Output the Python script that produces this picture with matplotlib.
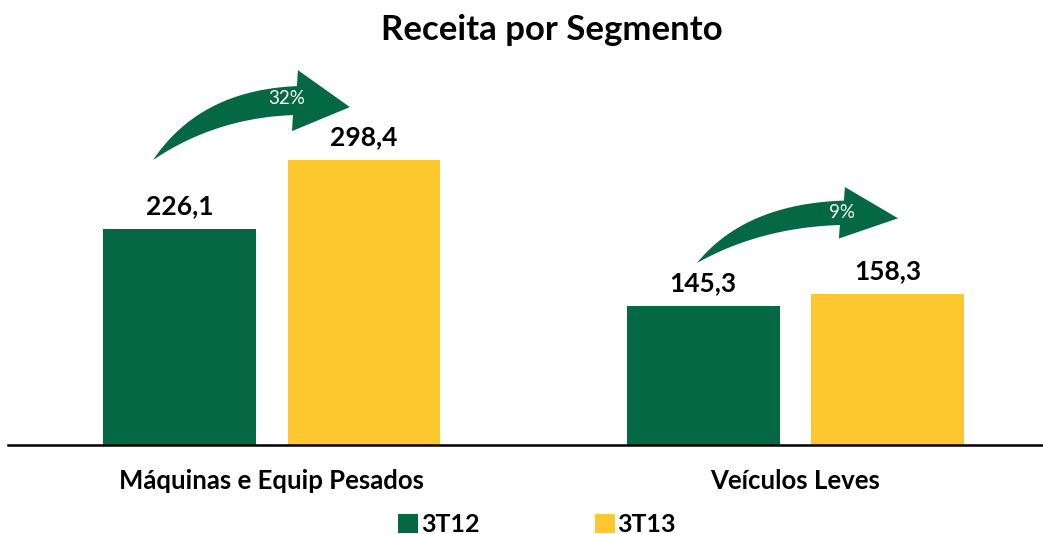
import matplotlib.pyplot as plt
import numpy as np
from matplotlib.patches import Polygon

plt.rcParams['font.family'] = ['Lato', 'DejaVu Sans']

categories = ['Máquinas e Equip Pesados', 'Veículos Leves']
series_names = ['3T12', '3T13']
values_3t12 = [226.1, 145.3]
values_3t13 = [298.4, 158.3]

GREEN = '#046845'
YELLOW = '#FDC82F'

W, H = 1043, 534
fig = plt.figure(figsize=(W / 100, H / 100), dpi=100)
ax = fig.add_axes([8 / W, (H - 445) / H, 1 - 8 / W, (445 - 60) / H])

x = np.arange(len(categories))
bw = 0.292
off = 0.176
b1 = ax.bar(x - off, values_3t12, bw, color=GREEN, label=series_names[0])
b2 = ax.bar(x + off, values_3t13, bw, color=YELLOW, label=series_names[1])

# value labels
for bars in (b1, b2):
    for r in bars:
        h = r.get_height()
        ax.annotate(f'{h:.1f}'.replace('.', ','), (r.get_x() + r.get_width() / 2, h),
                    xytext=(0, 8), textcoords='offset points', ha='center', va='bottom',
                    fontsize=19, fontweight='bold', color='black')

ax.set_xlim(-0.504, 1.473)
ax.set_ylim(0, 403.6)
ax.set_yticks([])
ax.set_xticks(x)
ax.set_xticklabels(categories, fontsize=18.5, fontweight='bold')
ax.tick_params(axis='x', length=0, pad=17)
for s in ['top', 'right', 'left']:
    ax.spines[s].set_visible(False)
ax.spines['bottom'].set_linewidth(1.8)
ax.spines['bottom'].set_zorder(3)


def bezier(p0, c, p2, n=40):
    t = np.linspace(0, 1, n)[:, None]
    return (1 - t) ** 2 * np.array(p0) + 2 * (1 - t) * t * np.array(c) + t ** 2 * np.array(p2)


def curved_arrow(ax, x0, x1, y0, y1, text, text_pos):
    # shape in a unit box: tail at (0,0), head reaching (1, ~0.6)
    upper = bezier((0, 0), (0.239, 0.778), (0.731, 0.822))
    lower = bezier((0, 0), (0.315, 0.467), (0.711, 0.5))
    head = np.array([[0.736, 1.0], [1.0, 0.589], [0.706, 0.322]])
    pts = np.vstack([upper, head, lower[::-1]])
    pts[:, 0] = x0 + pts[:, 0] * (x1 - x0)
    pts[:, 1] = y0 + pts[:, 1] * (y1 - y0)
    ax.add_patch(Polygon(pts, closed=True, facecolor=GREEN, edgecolor='none', clip_on=False))
    ax.text(x0 + text_pos[0] * (x1 - x0), y0 + text_pos[1] * (y1 - y0), text,
            ha='center', va='center', color='white', fontsize=13.5)


growth = [v2 / v1 - 1 for v1, v2 in zip(values_3t12, values_3t13)]
arrow_boxes = [(-0.227, 0.149, 298.7, 393.0), (1 - 0.188, 1 + 0.196, 190.8, 270.4)]
text_pos = [(0.68, 0.68), (0.72, 0.66)]
for g, box, tp in zip(growth, arrow_boxes, text_pos):
    curved_arrow(ax, *box, f'{g * 100:.0f}%', tp)

fig.text(552 / W, 1 - 30 / H, 'Receita por Segmento', ha='center', va='center',
         fontsize=25, fontweight='bold')

fig.legend(handles=[b1, b2], loc='upper center', bbox_to_anchor=(537 / W, 1 - 513 / H),
           ncol=2, frameon=False, prop={'size': 18, 'weight': 'bold'},
           handlelength=0.8, handleheight=0.8, handletextpad=0.12, columnspacing=4.6,
           borderpad=0, borderaxespad=0)

fig.savefig('out.png', dpi=100)
